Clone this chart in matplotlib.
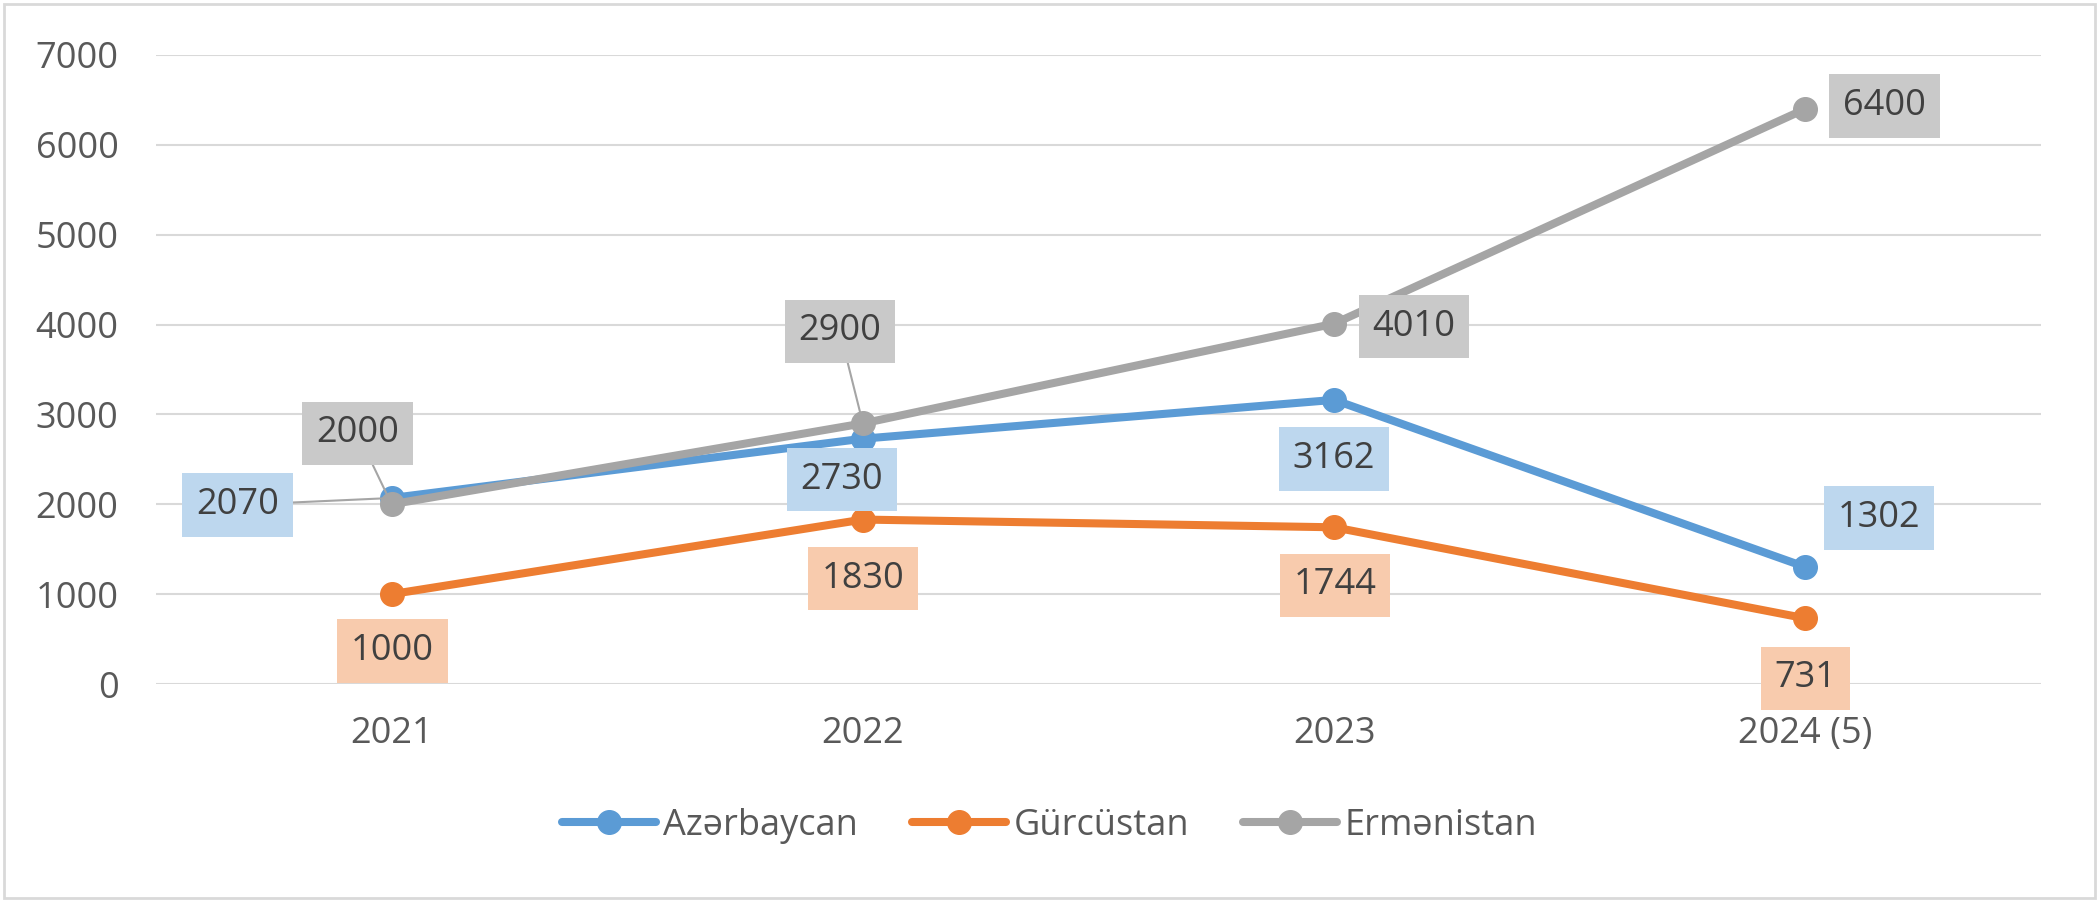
import matplotlib.pyplot as plt
from matplotlib.patches import Rectangle

plt.rcParams['font.family'] = ['Open Sans', 'DejaVu Sans']

years = ['2021', '2022', '2023', '2024 (5)']
azerbaycan = [2070, 2730, 3162, 1302]
gurcustan = [1000, 1830, 1744, 731]
ermenistan = [2000, 2900, 4010, 6400]

names = ['Azərbaycan', 'Gürcüstan', 'Ermənistan']
line_colors = ['#5B9BD5', '#ED7D31', '#A5A5A5']
box_colors = ['#BDD7EE', '#F8CBAD', '#C9C9C9']

# label offsets in pixels (dx, dy) per series / point
offsets = [
    [(-154, -7), (-21, -41), (0, -59), (74, 49)],
    [(1, -57), (0, -59), (1, -58), (0, -60)],
    [(-34, 71), (-23, 92), (80, -3), (79, 3)],
]
leaders = [[True, False, False, False],
           [False, False, False, False],
           [True, True, False, False]]

fs = 26
fig = plt.figure(figsize=(20.99, 9.02), dpi=100)
ax = fig.add_axes([156/2099, 1-684/902, (2041-156)/2099, (684-55)/902])

x = list(range(len(years)))
series = [azerbaycan, gurcustan, ermenistan]
for k, vals in enumerate(series):
    ax.plot(x, vals, color=line_colors[k], lw=5.8, marker='o', ms=17,
            label=names[k], solid_capstyle='round', zorder=3+k)

for k, vals in enumerate(series):
    for i, v in enumerate(vals):
        ap = None
        if leaders[k][i]:
            ap = dict(arrowstyle='-', color='#A5A5A5', lw=1.5,
                      shrinkA=0, shrinkB=6)
        ax.annotate(str(v), (i, v), xytext=offsets[k][i],
                    textcoords='offset pixels', ha='center', va='center',
                    fontsize=fs, color='#404040', zorder=10,
                    bbox=dict(boxstyle='square,pad=0.38', fc=box_colors[k],
                              ec='none'),
                    arrowprops=ap)

ax.set_xlim(-0.5, 3.5)
ax.set_ylim(0, 7000)
ax.set_yticks(range(0, 7001, 1000))
ax.set_xticks(x)
ax.set_xticklabels(years)
ax.tick_params(axis='both', length=0, labelsize=fs, labelcolor='#595959')
ax.tick_params(axis='y', pad=27)
ax.tick_params(axis='x', pad=23)
ax.grid(axis='y', color='#D9D9D9', lw=1.5)
ax.set_axisbelow(True)
for s in ax.spines.values():
    s.set_visible(False)

fig.legend(loc='center', bbox_to_anchor=(0.5, 76/902), ncol=3, frameon=False,
           fontsize=fs, labelcolor='#595959', handlelength=2.6,
           handletextpad=0.2, columnspacing=1.5)

fig.patches.append(Rectangle((4/2099, 4/902), 2091/2099, 894/902,
                             transform=fig.transFigure, fill=False,
                             ec='#D9D9D9', lw=2))

fig.savefig('out.png', dpi=100)
